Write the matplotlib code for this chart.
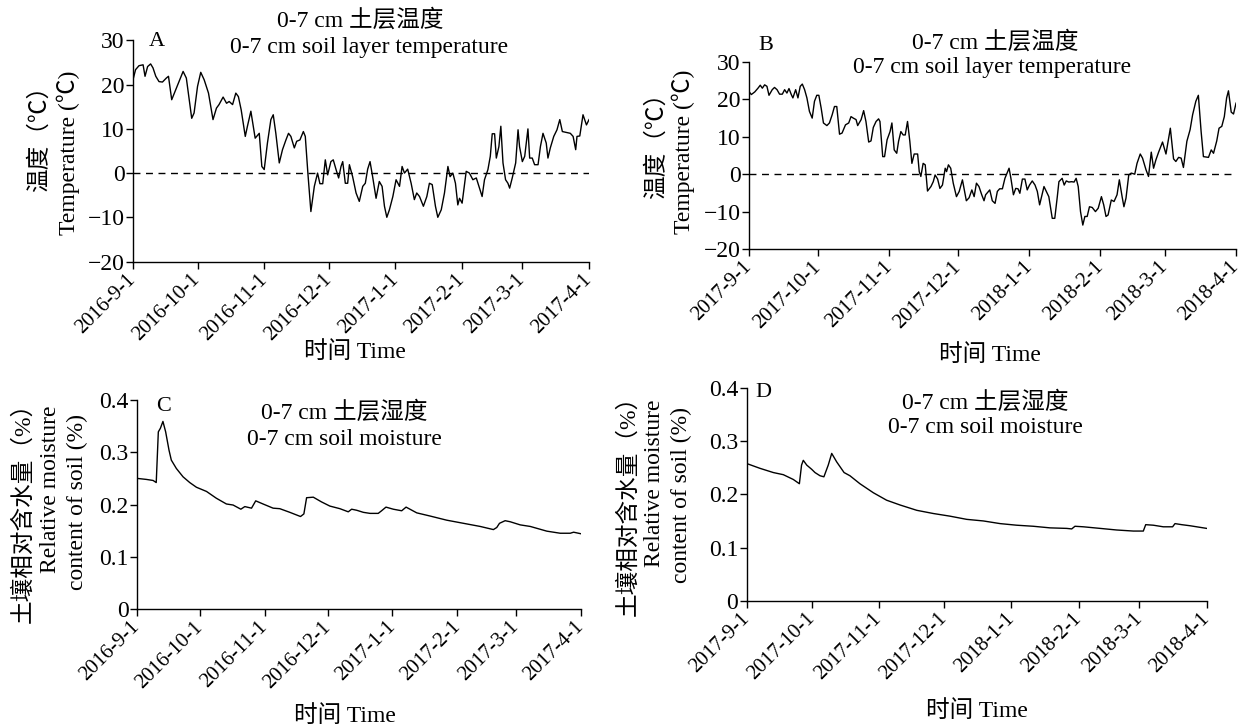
import numpy as np
import matplotlib
matplotlib.use('Agg')
import matplotlib.pyplot as plt
import matplotlib.dates as mdates
from datetime import date

plt.rcParams['font.family'] = ['Liberation Serif', 'Noto Sans CJK SC']
plt.rcParams['axes.unicode_minus'] = True

# ---- dados (dias desde o inicio da serie) ----
inicioA = '2016-9-1'
inicioB = '2017-9-1'

diasA = [0.0, 1.2, 2.8, 4.7, 5.6, 6.8, 8.2, 9.3, 10.6, 12.1,
         13.7, 15.5, 16.5, 18.0, 19.9, 21.4, 23.3, 24.8, 27.3, 28.4,
         30.0, 31.5, 33.1, 35.1, 37.2, 38.8, 40.0, 41.9, 43.5, 44.7,
         46.3, 47.8, 49.0, 50.3, 52.2, 53.2, 54.8, 55.9, 56.8, 58.7,
         59.9, 61.0, 62.5, 64.1, 65.2, 66.4, 68.0, 69.5, 71.1, 72.3,
         73.4, 75.0, 76.1, 77.6, 79.2, 80.1, 81.3, 82.7, 84.3, 85.8,
         86.9, 88.2, 89.4, 90.5, 92.0, 93.1, 94.4, 95.6, 96.7, 97.5,
         98.7, 99.8, 100.6, 102.1, 103.7, 105.2, 106.8, 108.0, 109.1, 110.2,
         111.4, 113.0, 114.5, 115.8, 116.9, 118.0, 119.2, 120.8, 122.3, 123.9,
         125.1, 126.2, 127.7, 129.3, 130.8, 131.9, 133.2, 135.0, 136.6, 137.8,
         139.1, 140.6, 141.7, 143.3, 144.8, 146.4, 147.4, 148.7, 149.9, 151.0,
         151.8, 153.0, 154.9, 156.4, 158.0, 159.6, 161.1, 162.3, 163.4, 165.0,
         166.1, 167.0, 168.1, 168.9, 170.1, 171.0, 172.0, 173.2, 174.3, 175.1,
         176.3, 177.9, 179.0, 179.7, 181.0, 182.1, 183.6, 184.4, 185.6, 186.7,
         188.3, 189.4, 190.6, 192.1, 192.9, 194.0, 195.6, 197.1, 198.4, 199.6,
         201.5, 203.3, 204.6, 205.8, 206.4, 207.7, 209.2, 210.8, 212.0]
tempA = [21.1, 23.4, 24.3, 24.5, 21.9, 24.1, 24.7, 23.8, 21.9, 20.7,
         20.6, 21.5, 21.9, 16.6, 18.9, 20.7, 23.0, 21.5, 12.4, 13.6,
         19.6, 22.8, 21.1, 18.1, 12.1, 14.7, 15.5, 17.2, 15.8, 16.2,
         15.5, 18.1, 17.3, 14.3, 8.3, 10.6, 14.0, 10.6, 7.9, 9.0,
         1.5, 0.8, 6.8, 12.1, 13.2, 9.0, 2.3, 5.3, 7.5, 9.0,
         8.3, 5.7, 7.2, 7.5, 9.4, 8.3, 0.0, -8.7, -3.0, 0.0,
         -2.4, -2.4, 3.0, -0.4, 2.6, 3.0, 0.8, -1.1, 1.5, 2.6,
         -2.3, -2.3, 1.9, -0.8, -4.5, -6.4, -3.0, -2.3, 0.9, 2.6,
         -0.8, -5.7, -1.9, -3.0, -7.5, -10.0, -8.3, -5.3, -1.5, -3.0,
         1.5, 0.0, 0.9, -2.3, -6.0, -4.5, -5.3, -7.5, -5.3, -2.3,
         -2.6, -7.5, -10.0, -8.3, -4.5, 1.5, -0.8, 0.0, -2.3, -7.2,
         -5.7, -6.8, 0.4, 0.0, -1.5, -1.1, -3.4, -5.3, -1.5, 0.8,
         3.8, 8.9, 8.9, 3.4, 6.0, 10.6, 2.3, -1.5, -2.3, -3.4,
         -1.1, 2.3, 9.8, 6.0, 2.6, 3.8, 10.0, 3.4, 3.4, 1.9,
         1.9, 6.0, 9.0, 6.8, 3.4, 5.7, 8.3, 9.8, 12.1, 9.4,
         9.2, 9.0, 8.3, 5.3, 8.3, 8.4, 13.2, 10.9, 12.1]

diasB = [0.0, 1.0, 2.5, 3.9, 4.9, 5.8, 6.8, 7.8, 8.7, 10.1,
         11.1, 12.2, 13.3, 14.5, 15.5, 16.5, 17.4, 18.4, 19.1, 20.3,
         21.3, 22.3, 23.2, 24.2, 25.2, 26.3, 27.5, 28.5, 29.5, 30.4,
         31.4, 32.4, 33.9, 35.0, 36.2, 37.2, 38.2, 39.4, 40.5, 42.0,
         43.4, 44.4, 45.4, 46.6, 47.3, 48.8, 49.9, 50.9, 52.1, 53.1,
         54.1, 55.3, 56.4, 57.0, 58.2, 59.0, 60.1, 61.4, 62.2, 63.2,
         64.3, 65.1, 66.1, 67.1, 68.0, 69.0, 70.0, 70.9, 71.9, 73.4,
         74.1, 74.8, 75.8, 76.7, 77.7, 79.2, 80.2, 81.0, 82.1, 83.1,
         84.2, 85.4, 86.0, 86.8, 87.8, 88.9, 90.3, 91.5, 92.9, 93.6,
         94.6, 95.8, 97.0, 98.0, 99.0, 100.1, 101.3, 102.3, 103.0, 104.8,
         105.9, 107.1, 108.1, 109.1, 110.3, 111.4, 113.2, 114.0, 115.1, 116.1,
         117.1, 117.9, 119.0, 120.1, 121.1, 122.1, 123.3, 124.5, 125.5, 126.5,
         127.6, 128.4, 129.4, 130.5, 132.0, 133.1, 134.2, 134.9, 136.3, 137.2,
         138.1, 139.2, 140.4, 141.5, 142.4, 143.3, 144.3, 145.3, 146.2, 147.2,
         148.2, 149.4, 150.8, 152.0, 153.4, 154.4, 155.4, 156.3, 157.7, 158.9,
         160.2, 161.2, 162.4, 163.2, 164.1, 165.3, 166.4, 167.9, 168.9, 170.3,
         171.3, 172.8, 173.9, 175.1, 176.1, 177.1, 178.3, 180.0, 181.5, 183.4,
         184.8, 185.8, 187.0, 188.1, 189.1, 190.6, 192.0, 193.1, 194.5, 195.6,
         196.8, 197.8, 200.0, 201.2, 202.2, 203.6, 204.6, 205.8, 206.9, 207.9,
         208.7, 209.9, 210.9, 212.0]
tempB = [22.1, 21.3, 22.0, 23.0, 23.8, 23.0, 23.9, 23.5, 21.1, 22.6,
         23.2, 22.6, 21.4, 21.4, 22.6, 21.7, 22.9, 21.3, 20.4, 22.6,
         20.4, 23.5, 24.1, 22.6, 20.4, 16.8, 15.0, 19.5, 21.1, 21.1,
         17.7, 13.7, 13.0, 13.7, 15.9, 18.1, 18.1, 10.7, 11.0, 13.2,
         13.7, 15.4, 15.0, 14.6, 13.0, 14.6, 17.0, 14.1, 8.6, 8.9,
         12.5, 14.1, 14.8, 14.1, 4.7, 4.7, 9.2, 11.4, 13.7, 6.5,
         5.6, 8.8, 11.4, 10.5, 10.5, 14.1, 8.8, 2.9, 5.4, 5.4,
         0.7, -0.6, 2.9, 2.5, -4.5, -3.3, -2.0, -0.2, -1.3, -3.8,
         -2.9, 1.6, 0.7, 2.5, 1.6, -2.4, -6.0, -4.6, -1.5, -3.8,
         -7.1, -6.3, -4.2, -6.0, -2.4, -3.3, -5.5, -7.1, -5.5, -4.2,
         -7.1, -7.8, -4.6, -3.9, -3.9, -1.1, 1.6, -1.1, -5.5, -3.8,
         -3.9, -5.1, -1.3, -1.3, -4.2, -2.9, -1.8, -2.9, -4.6, -8.2,
         -5.4, -3.3, -4.6, -6.0, -11.8, -11.8, -6.0, -2.0, -1.1, -2.9,
         -1.8, -2.1, -2.0, -2.1, -1.1, -3.3, -10.0, -13.6, -11.3, -11.3,
         -8.7, -8.9, -10.0, -9.1, -6.0, -8.2, -11.3, -10.9, -6.9, -7.3,
         -5.5, -1.5, -6.0, -8.7, -6.4, -0.2, 0.3, 0.0, 2.9, 5.4,
         4.3, 1.2, -0.6, 5.9, 1.6, 3.8, 5.9, 8.6, 5.4, 12.3,
         4.1, 3.4, 4.5, 4.3, 1.8, 8.8, 11.9, 15.9, 19.5, 21.1,
         11.4, 4.7, 4.5, 6.5, 5.6, 8.9, 12.3, 12.8, 15.4, 20.4,
         22.3, 16.6, 16.1, 19.0]

diasC = [0.0, 4.5, 7.7, 9.2, 10.2, 11.2, 12.4, 13.7, 15.3, 16.4,
         18.8, 22.0, 25.2, 28.4, 33.2, 37.9, 42.7, 45.9, 49.6, 51.5,
         54.7, 56.7, 60.2, 65.0, 68.2, 73.0, 78.1, 79.7, 81.0, 84.2,
         88.1, 92.1, 96.9, 100.9, 102.5, 104.9, 108.1, 111.3, 115.2, 116.8,
         118.9, 122.4, 126.4, 128.5, 133.6, 139.9, 147.9, 155.9, 163.9, 170.2,
         171.8, 173.1, 175.8, 178.2, 183.0, 187.8, 195.7, 202.1, 206.9, 208.5,
         212.0]
humC = [0.250, 0.248, 0.246, 0.242, 0.339, 0.346, 0.359, 0.339, 0.304, 0.285,
        0.269, 0.253, 0.242, 0.233, 0.225, 0.212, 0.201, 0.199, 0.191, 0.196,
        0.193, 0.207, 0.201, 0.193, 0.192, 0.185, 0.177, 0.182, 0.213, 0.214,
        0.205, 0.197, 0.192, 0.186, 0.191, 0.189, 0.185, 0.183, 0.183, 0.188,
        0.195, 0.191, 0.188, 0.195, 0.184, 0.178, 0.170, 0.164, 0.158, 0.152,
        0.156, 0.164, 0.169, 0.167, 0.161, 0.158, 0.149, 0.145, 0.145, 0.147,
        0.144]

diasD = [0.0, 6.1, 12.3, 16.9, 21.5, 24.3, 25.3, 26.1, 27.7, 30.0,
         31.5, 33.8, 35.6, 37.6, 39.2, 41.5, 44.9, 47.6, 52.2, 58.4,
         64.5, 70.7, 78.4, 86.0, 93.7, 101.4, 109.1, 116.8, 124.4, 132.1,
         139.8, 147.5, 149.8, 151.3, 155.2, 162.9, 170.5, 178.2, 182.8, 183.9,
         187.4, 192.0, 196.3, 197.4, 200.5, 204.3, 212.0]
humD = [0.258, 0.249, 0.241, 0.237, 0.228, 0.220, 0.255, 0.264, 0.255, 0.247,
        0.241, 0.235, 0.233, 0.255, 0.277, 0.261, 0.241, 0.235, 0.220, 0.203,
        0.189, 0.180, 0.170, 0.164, 0.159, 0.153, 0.150, 0.145, 0.142, 0.140,
        0.137, 0.136, 0.135, 0.140, 0.139, 0.136, 0.133, 0.131, 0.131, 0.143,
        0.142, 0.139, 0.139, 0.145, 0.143, 0.141, 0.136]

ticksA = ['2016-9-1', '2016-10-1', '2016-11-1', '2016-12-1',
          '2017-1-1', '2017-2-1', '2017-3-1', '2017-4-1']
ticksB = ['2017-9-1', '2017-10-1', '2017-11-1', '2017-12-1',
          '2018-1-1', '2018-2-1', '2018-3-1', '2018-4-1']
yticksTemp = [-20, -10, 0, 10, 20, 30]
yticksHum = [0, 0.1, 0.2, 0.3, 0.4]
ylabHum = ['0', '0.1', '0.2', '0.3', '0.4']

tituloTemp = ['0-7 cm 土层温度', '0-7 cm soil layer temperature']
tituloHum = ['0-7 cm 土层湿度', '0-7 cm soil moisture']
ylabelTemp = ['温度（℃）', 'Temperature (℃)']
ylabelHum = ['土壤相对含水量（%）', 'Relative moisture', 'content of soil (%)']
xlabel = '时间 Time'


def para_num(s):
    a, m, d = map(int, s.split('-'))
    return mdates.date2num(date(a, m, d))


W, H = 1244, 727
fig = plt.figure(figsize=(W / 100, H / 100), dpi=100)


def ftxt(x, y, s, **kw):
    # texto em coordenadas de pixel da figura
    fig.text(x / W, 1 - y / H, s, ha='center', va='center', **kw)


def painel(pos, inicio, dias, valores, ticks, yticks, ylabs=None, zero=False):
    ax = fig.add_axes(pos)
    x = para_num(inicio) + np.array(dias)
    ax.plot(x, valores, color='black', lw=1.0)
    if zero:
        ax.axhline(0, color='black', lw=1.0, dashes=(5, 4))
    ax.set_xlim(para_num(ticks[0]), para_num(ticks[-1]))
    ax.set_ylim(yticks[0], yticks[-1])
    ax.set_xticks([para_num(t) for t in ticks])
    ax.set_xticklabels(ticks, rotation=45, ha='right', va='center',
                       rotation_mode='anchor', fontsize=15)
    ax.set_yticks(yticks)
    if ylabs is not None:
        ax.set_yticklabels(ylabs)
    ax.tick_params(axis='y', labelsize=17, length=5, width=1, pad=1)
    ax.tick_params(axis='x', length=5, width=1, pad=6)
    for lado in ['top', 'right']:
        ax.spines[lado].set_visible(False)
    for lado in ['left', 'bottom']:
        ax.spines[lado].set_linewidth(1)
    return ax


axA = painel([0.1069, 0.6403, 0.3666, 0.3040], inicioA, diasA, tempA, ticksA,
             yticksTemp, zero=True)
axB = painel([0.6021, 0.6575, 0.3915, 0.2572], inicioB, diasB, tempB, ticksB,
             yticksTemp, zero=True)
axC = painel([0.1101, 0.1623, 0.3569, 0.2875], inicioA, diasC, humC, ticksA,
             yticksHum, ylabs=ylabHum)
axD = painel([0.6002, 0.1737, 0.3698, 0.2926], inicioB, diasD, humD, ticksB,
             yticksHum, ylabs=ylabHum)

# titulos e letras dos paineis
for ax, letra, pl, t1, t2, tit in [
        (axA, 'A', (0.053, 0.995), (0.498, 1.09), (0.518, 0.968), tituloTemp),
        (axB, 'B', (0.035, 1.09), (0.505, 1.107), (0.499, 0.968), tituloTemp),
        (axC, 'C', (0.059, 0.967), (0.468, 0.943), (0.468, 0.809), tituloHum),
        (axD, 'D', (0.036, 0.98), (0.518, 0.934), (0.518, 0.812), tituloHum)]:
    ax.text(*pl, letra, transform=ax.transAxes, fontsize=16, ha='center', va='center')
    ax.text(*t1, tit[0], transform=ax.transAxes, fontsize=17, ha='center', va='center')
    ax.text(*t2, tit[1], transform=ax.transAxes, fontsize=17, ha='center', va='center')

# rotulos dos eixos
ftxt(40, 133, ylabelTemp[0], rotation=90, fontsize=17)
ftxt(68, 153, ylabelTemp[1], rotation=90, fontsize=17)
ftxt(657, 140, ylabelTemp[0], rotation=90, fontsize=17)
ftxt(683, 152, ylabelTemp[1], rotation=90, fontsize=17)
ftxt(23, 507, ylabelHum[0], rotation=90, fontsize=17)
ftxt(51, 489, ylabelHum[1], rotation=90, fontsize=17)
ftxt(77, 502, ylabelHum[2], rotation=90, fontsize=17)
ftxt(628, 500, ylabelHum[0], rotation=90, fontsize=17)
ftxt(655, 483, ylabelHum[1], rotation=90, fontsize=17)
ftxt(681, 495, ylabelHum[2], rotation=90, fontsize=17)

ftxt(355, 352, xlabel, fontsize=17)
ftxt(990, 355, xlabel, fontsize=17)
ftxt(345, 716, xlabel, fontsize=17)
ftxt(977, 711, xlabel, fontsize=17)

fig.savefig('out.png', dpi=100)
